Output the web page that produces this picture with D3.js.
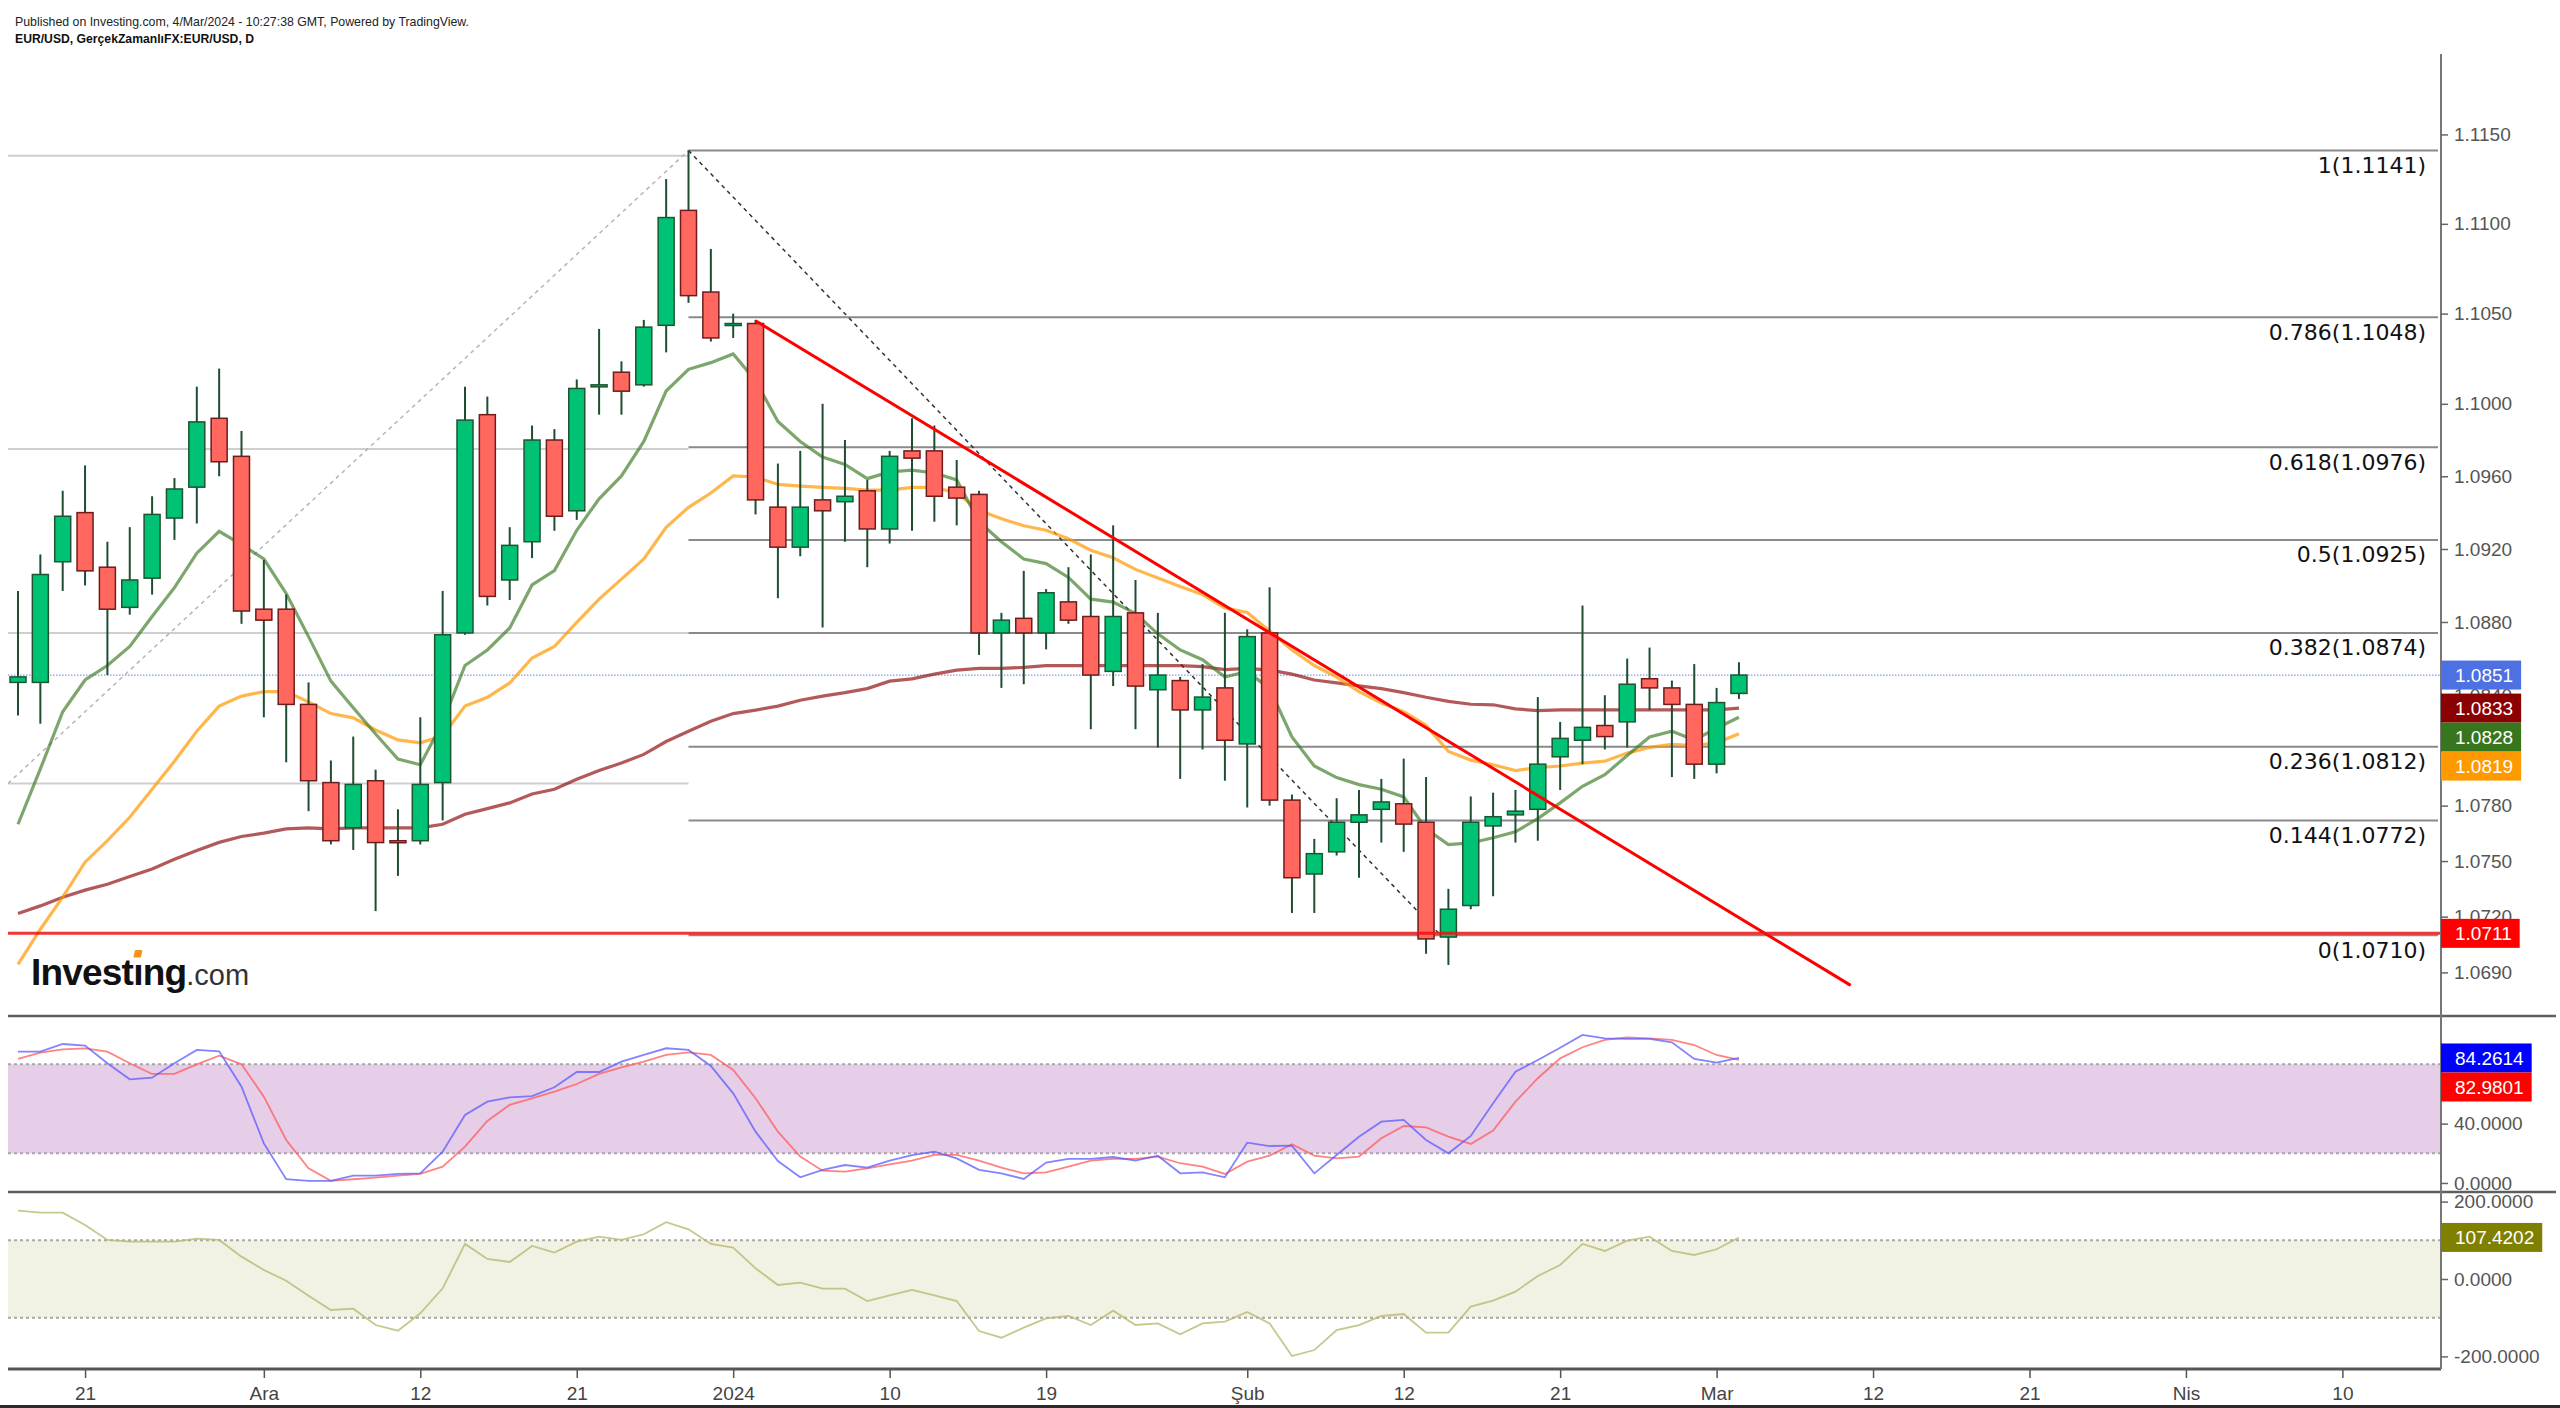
<!DOCTYPE html>
<html><head><meta charset="utf-8"><title>EUR/USD</title>
<script src="https://cdn.jsdelivr.net/npm/d3@7/dist/d3.min.js"></script>
<style>html,body{margin:0;padding:0;background:#fff;overflow:hidden}svg{display:block}</style>
</head><body>
<svg id="chart" width="2560" height="1408" xmlns="http://www.w3.org/2000/svg"></svg>
<script>
// ---------------- DATA ----------------
const firstDay = "2023-11-16";
const candleOpen = [1.0847,1.0847,1.0913,1.0940,1.0910,1.0888,1.0904,1.0937,1.0954,1.0992,
1.0971,1.0887,1.0887,1.0835,1.07925,1.0768,1.07935,1.0761,1.0761,1.07925,
1.0874,1.0994,1.0903,1.0924,1.0980,1.0941,1.10095,1.10175,1.10105,1.10435,
1.11075,1.1062,1.10435,1.10445,1.0943,1.0921,1.0947,1.0946,1.0952,1.0931,
1.0974,1.0974,1.0954,1.0950,1.0874,1.0882,1.0874,1.0891,1.0883,1.0853,
1.0885,1.0843,1.0848,1.0832,1.0844,1.08135,1.0874,1.0783,1.0743,1.0755,
1.0771,1.0778,1.0781,1.0771,1.0709,1.0726,1.0769,1.0775,1.0778,1.08065,
1.08155,1.08235,1.08255,1.0849,1.0844,1.0835,1.08025,1.0841];
const candleHigh = [1.0897,1.0917,1.0952,1.0966,1.0924,1.0932,1.0949,1.0959,1.10095,1.10195,
1.0985,1.0914,1.0895,1.0847,1.08045,1.08175,1.07995,1.0778,1.0828,1.0897,
1.10095,1.1004,1.0932,1.0988,1.0986,1.10135,1.10415,1.10235,1.10465,1.1125,
1.1141,1.1086,1.1050,1.10465,1.0967,1.0974,1.1000,1.0980,1.0958,1.0974,
1.0992,1.0988,1.0969,1.0952,1.0885,1.0908,1.0898,1.0910,1.0917,1.0933,
1.0903,1.0885,1.0850,1.0857,1.0885,1.0876,1.0899,1.0786,1.0762,1.0784,
1.07885,1.07945,1.08055,1.07955,1.0735,1.0785,1.0787,1.07885,1.0839,1.08255,
1.0889,1.0840,1.0860,1.0866,1.0848,1.0857,1.0844,1.0858];
const candleLow = [1.0829,1.08245,1.0897,1.0900,1.0851,1.0884,1.0895,1.0925,1.0934,1.0960,
1.0879,1.0828,1.08035,1.0777,1.0759,1.0756,1.0723,1.0742,1.0759,1.0772,
1.0873,1.0889,1.0892,1.0915,1.0930,1.0936,1.0994,1.0994,1.10095,1.10285,
1.1056,1.10345,1.10365,1.0939,1.0893,1.0916,1.0877,1.0924,1.0910,1.0923,
1.0930,1.0935,1.0933,1.0862,1.0844,1.0846,1.0865,1.0879,1.08215,1.0845,
1.08215,1.08115,1.07945,1.08105,1.07935,1.0779,1.0780,1.0722,1.0722,1.0753,
1.0741,1.0760,1.0755,1.0700,1.0694,1.0724,1.0731,1.0760,1.0761,1.07885,
1.08025,1.08105,1.08115,1.0832,1.07955,1.07945,1.07975,1.0838];
const candleClose = [1.0850,1.0906,1.0938,1.0908,1.0887,1.0903,1.0939,1.0953,1.0990,1.0968,
1.0886,1.0881,1.0835,1.07935,1.0761,1.07915,1.0760,1.0760,1.07915,1.0873,
1.0991,1.0894,1.0922,1.0980,1.0938,1.10085,1.10105,1.1007,1.10425,1.11035,
1.1060,1.10365,1.10445,1.0947,1.0921,1.0943,1.0941,1.0949,1.0931,1.0971,
1.0970,1.0949,1.0948,1.0874,1.0881,1.0874,1.0896,1.0881,1.0851,1.0883,
1.0845,1.0851,1.0832,1.0839,1.08155,1.0872,1.0783,1.0741,1.0754,1.0771,
1.0775,1.0782,1.0770,1.0708,1.0724,1.0771,1.0774,1.0777,1.08025,1.08165,
1.08225,1.08175,1.0846,1.0844,1.0835,1.08025,1.0836,1.0851];

const maGreen = [1.07699,1.07999,1.08310,1.08483,1.08562,1.08666,1.08830,1.08988,1.09177,1.09297,
1.09224,1.09145,1.08956,1.08720,1.08477,1.08332,1.08189,1.08053,1.08022,1.08252,
1.08562,1.08647,1.08767,1.09003,1.09082,1.09303,1.09476,1.09602,1.09792,1.10071,
1.10191,1.10228,1.10276,1.10128,1.09902,1.09792,1.09706,1.09665,1.09587,1.09624,
1.09634,1.09618,1.09580,1.09350,1.09240,1.09145,1.09120,1.09044,1.08925,1.08909,
1.08846,1.08735,1.08647,1.08594,1.08499,1.08530,1.08436,1.08173,1.08015,1.07952,
1.07914,1.07889,1.07847,1.07674,1.07589,1.07598,1.07626,1.07658,1.07730,1.07815,
1.07905,1.07968,1.08072,1.08173,1.08204,1.08157,1.08220,1.0828];
const maOrange = [1.06943,1.07132,1.07305,1.07494,1.07610,1.07737,1.07889,1.08041,1.08204,1.08341,
1.08395,1.08420,1.08420,1.08363,1.08300,1.08277,1.08211,1.08157,1.08141,1.08179,
1.08341,1.08389,1.08467,1.08603,1.08666,1.08798,1.08925,1.09035,1.09145,1.09319,
1.09429,1.09508,1.09602,1.09596,1.09555,1.09546,1.09539,1.09533,1.09524,1.09524,
1.09539,1.09539,1.09508,1.09413,1.09366,1.09328,1.09303,1.09256,1.09193,1.09152,
1.09088,1.09041,1.08994,1.08950,1.08877,1.08852,1.08751,1.08647,1.08562,1.08499,
1.08420,1.08357,1.08310,1.08236,1.08094,1.08047,1.08022,1.07990,1.08006,1.08015,
1.08031,1.08041,1.08085,1.08116,1.08132,1.08126,1.08141,1.0819];
const maRed = [1.07217,1.07258,1.07305,1.07343,1.07375,1.07416,1.07457,1.07510,1.07557,1.07601,
1.07633,1.07651,1.07674,1.07680,1.07674,1.07680,1.07680,1.07680,1.07680,1.07699,
1.07753,1.07784,1.07815,1.07863,1.07889,1.07943,1.07990,1.08031,1.08078,1.08148,
1.08204,1.08258,1.08300,1.08319,1.08341,1.08373,1.08395,1.08414,1.08436,1.08477,
1.08489,1.08515,1.08537,1.08546,1.08546,1.08552,1.08562,1.08562,1.08562,1.08562,
1.08562,1.08562,1.08562,1.08556,1.08540,1.08546,1.08537,1.08515,1.08483,1.08467,
1.08451,1.08436,1.08414,1.08389,1.08367,1.08351,1.08348,1.08326,1.08316,1.0832,
1.0832,1.0832,1.0832,1.0832,1.0832,1.0832,1.0832,1.0833];

const stochK = [88.5,88.5,93.7,92.6,80.7,69.9,71.0,80.7,89.7,88.8,
64.9,26.7,2.5,1.4,1.4,4.9,4.9,6.1,6.5,21.1,
45.8,54.8,57.7,58.6,64.5,74.8,74.8,81.8,86.3,90.8,
89.7,78.9,60.4,34.6,14.8,3.8,8.8,12.1,10.3,15.1,
18.7,21.1,16.6,8.8,6.5,2.7,13.7,16.2,16.2,17.5,
15.1,18.4,6.5,7.2,3.8,27.2,24.9,25.2,6.5,18.9,
31.2,41.3,42.5,29.0,20.0,31.7,53.7,75.0,82.9,91.2,
99.8,97.5,97.1,97.1,94.8,83.6,81.1,84.2614];
const stochD = [83.6,87.9,90.1,90.8,88.5,80.7,73.5,73.5,80.0,85.8,
80.0,58.2,29.0,9.9,1.4,2.5,3.6,4.9,6.1,11.0,
24.5,41.8,52.6,57.1,61.6,66.7,73.5,78.0,81.8,86.3,
88.1,86.3,76.2,57.1,34.6,17.8,8.3,7.6,9.9,12.6,
15.1,18.9,18.9,15.1,10.3,6.5,7.2,11.0,15.1,16.2,
16.2,17.8,13.3,11.0,6.1,14.4,18.4,26.1,18.4,16.6,
17.8,30.1,38.4,37.5,31.2,26.3,35.3,54.8,70.6,84.0,
91.5,96.4,98.2,97.5,96.4,93.0,86.3,82.9801];
const cci = [176.8,171.6,171.6,139.7,100.9,96.6,96.6,96.6,104.3,100.9,
57.8,23.3,-4.3,-43.1,-80.1,-76.7,-118.9,-133.6,-88.7,-24.1,
90.6,51.8,44.0,85.4,68.1,96.6,109.5,100.9,115.6,146.6,
128.5,90.6,81.1,27.6,-15.5,-9.4,-25.0,-25.0,-56.9,-42.2,
-28.4,-42.2,-56.9,-134.4,-151.7,-125.8,-101.7,-95.6,-118.9,-81.8,
-118.9,-114.6,-143.0,-114.6,-110.3,-85.3,-114.6,-199.1,-183.6,-131.8,
-118.9,-95.6,-90.5,-138.7,-138.7,-71.5,-56.0,-32.7,7.8,36.3,
90.6,72.5,99.2,109.5,72.5,62.1,76.8,107.42];

const fibRatios = ["1","0.786","0.618","0.5","0.382","0.236","0.144","0"];
const fibPrices = [1.1141,1.1048,1.0976,1.0925,1.0874,1.0812,1.0772,1.0710];
const fibStart = 30, fibDiagEnd = 63.65;
const leftFibPrices = [1.1138,1.0975,1.0874,1.0792];
const leftFibStart = -0.45, leftDiagLow = 1.0792;
const trendLine = [[33,1.1046],[82,1.0683]];
const supportPrice = 1.0711;
const lastPrice = 1.0851;

const priceTicks = [1.1150,1.1100,1.1050,1.1000,1.0960,1.0920,1.0880,1.0840,1.0780,1.0750,1.0720,1.0690];
const stochTicks = [40,0];
const cciTicks = [200,0,-200];
const xTickDates = ["2023-11-21","2023-12-01","2023-12-12","2023-12-21","2024-01-01","2024-01-10","2024-01-19","2024-02-01","2024-02-12","2024-02-21","2024-03-01","2024-03-12","2024-03-21","2024-04-01","2024-04-10"];
const xTickLabels = ["21","Ara","12","21","2024","10","19","Şub","12","21","Mar","12","21","Nis","10"];

const priceBoxes = [{v:1.0851,label:"1.0851",color:"#4d70e2"},{v:1.0833,label:"1.0833",color:"#8b0000"},{v:1.0828,label:"1.0828",color:"#38761d"},{v:1.0819,label:"1.0819",color:"#ff9900"},{v:1.0711,label:"1.0711",color:"#ff0000"}];
const stochBoxes = [{v:84.2614,label:"84.2614",color:"#0000ff"},{v:82.9801,label:"82.9801",color:"#ff0000"}];
const cciBoxes = [{v:107.4202,label:"107.4202",color:"#808000"}];

const headerLine1 = "Published on Investing.com, 4/Mar/2024 - 10:27:38 GMT, Powered by TradingView.";
const headerLine2 = "EUR/USD, GerçekZamanlıFX:EUR/USD, D";

// ---------------- LAYOUT ----------------
const svg = d3.select("#chart");
const AX = "'Liberation Sans', Arial, Helvetica, sans-serif";
const L = 8, R = 2441;
const mainTop = 54, mainBot = 1015, stTop = 1016, stBot = 1192, ccTop = 1192, ccBot = 1369;

function tradingIndex(ds){
  const a = new Date(firstDay+"T00:00:00Z"), b = new Date(ds+"T00:00:00Z");
  let n=0; for(let d=new Date(a); d<b; d.setUTCDate(d.getUTCDate()+1)){const w=d.getUTCDay(); if(w!==0&&w!==6) n++;}
  return n;
}
const x = d3.scaleLinear().domain([0,100]).range([18, 18+2235]);
const y = d3.scaleLog().domain([1.0710,1.1141]).range([935.2,150.5]);
const yS = d3.scaleLinear().domain([20,80]).range([1153.3,1064.3]);
const yC = d3.scaleLinear().domain([-100,100]).range([1317.7,1240.3]);

const defs = svg.append("defs");
function clip(id,y0,y1){defs.append("clipPath").attr("id",id).append("rect").attr("x",L).attr("y",y0).attr("width",R-L).attr("height",y1-y0);}
clip("cMain",mainTop,mainBot); clip("cSt",stTop,stBot); clip("cCc",ccTop,ccBot);

svg.append("rect").attr("width",2560).attr("height",1408).attr("fill","#fff");

// header
svg.append("text").attr("x",15).attr("y",26).attr("textLength",454).attr("lengthAdjust","spacingAndGlyphs")
  .style("font-family",AX).style("font-size","13px").attr("fill","#222").text(headerLine1);
svg.append("text").attr("x",15).attr("y",43).attr("textLength",239).attr("lengthAdjust","spacingAndGlyphs")
  .style("font-family",AX).style("font-size","13px").style("font-weight","bold").attr("fill","#111").text(headerLine2);

// ---------------- MAIN PANEL ----------------
const gM = svg.append("g").attr("clip-path","url(#cMain)");
gM.selectAll(".lf").data(leftFibPrices).join("line")
  .attr("x1",x(leftFibStart)).attr("x2",x(fibStart)).attr("y1",d=>y(d)).attr("y2",d=>y(d))
  .attr("stroke","#cfcfcf").attr("stroke-width",2);
gM.append("line").attr("x1",x(leftFibStart)).attr("y1",y(leftDiagLow)).attr("x2",x(fibStart)).attr("y2",y(fibPrices[0]))
  .attr("stroke","#b5b5b5").attr("stroke-width",1.5).attr("stroke-dasharray","4,4");
gM.selectAll(".rf").data(fibPrices).join("line")
  .attr("x1",x(fibStart)).attr("x2",R-3).attr("y1",d=>y(d)).attr("y2",d=>y(d))
  .attr("stroke","#8a8a8a").attr("stroke-width",2);
gM.selectAll(".rfl").data(fibPrices).join("text")
  .attr("x",2426).attr("y",d=>y(d)+22.5).attr("text-anchor","end")
  .style("font-family","'DejaVu Sans', Verdana, sans-serif").style("font-size","22px").attr("fill","#111")
  .text((d,i)=>fibRatios[i]+"("+d.toFixed(4)+")");
gM.append("line").attr("x1",x(fibStart)).attr("y1",y(fibPrices[0])).attr("x2",x(fibDiagEnd)).attr("y2",y(fibPrices[7]))
  .attr("stroke","#333").attr("stroke-width",1.5).attr("stroke-dasharray","4,4");
gM.append("line").attr("x1",L).attr("x2",R).attr("y1",y(lastPrice)).attr("y2",y(lastPrice))
  .attr("stroke","#7f9af0").attr("stroke-width",1.2).attr("stroke-dasharray","1.5,1.5");

const maLine = d3.line().x((d,i)=>x(i)).y(d=>y(d));
gM.append("path").attr("d",maLine(maRed)).attr("fill","none").attr("stroke","#8b0000").attr("stroke-opacity",0.65).attr("stroke-width",3.2);
gM.append("path").attr("d",maLine(maOrange)).attr("fill","none").attr("stroke","#ff9900").attr("stroke-opacity",0.7).attr("stroke-width",3.2);
gM.append("path").attr("d",maLine(maGreen)).attr("fill","none").attr("stroke","#38761d").attr("stroke-opacity",0.65).attr("stroke-width",3.2);

const cData = candleOpen.map((o,i)=>({i,o,h:candleHigh[i],l:candleLow[i],c:candleClose[i]}));
const cg = gM.selectAll(".cd").data(cData).join("g");
cg.append("line").attr("x1",d=>x(d.i)).attr("x2",d=>x(d.i)).attr("y1",d=>y(d.h)).attr("y2",d=>y(d.l))
  .attr("stroke","#1f4d31").attr("stroke-width",2);
cg.append("rect")
  .attr("x",d=>x(d.i)-8).attr("width",16)
  .attr("y",d=>y(Math.max(d.o,d.c)))
  .attr("height",d=>Math.max(2,y(Math.min(d.o,d.c))-y(Math.max(d.o,d.c))))
  .attr("fill",d=>d.c>=d.o?"#00c274":"#ff675f")
  .attr("stroke",d=>d.c>=d.o?"#1b5630":"#6e1c1c").attr("stroke-width",1.5);

gM.append("line").attr("x1",x(trendLine[0][0])).attr("y1",y(trendLine[0][1])).attr("x2",x(trendLine[1][0])).attr("y2",y(trendLine[1][1]))
  .attr("stroke","#ff0000").attr("stroke-width",3);
gM.append("line").attr("x1",L).attr("x2",R).attr("y1",y(supportPrice)).attr("y2",y(supportPrice))
  .attr("stroke","#f01010").attr("stroke-opacity",0.85).attr("stroke-width",3);

// logo
const logo = svg.append("text").attr("x",31).attr("y",985).style("font-family",AX).style("font-weight","bold")
  .style("font-size","37px").style("letter-spacing","-0.8px").attr("fill","#111");
logo.append("tspan").text("Invest");
logo.append("tspan").text("ı");
logo.append("tspan").text("ng");
logo.append("tspan").style("font-weight","normal").style("font-size","29px").style("letter-spacing","0px").attr("fill","#333").text(".com");
try{
  const ext = logo.node().getExtentOfChar(6);
  svg.append("rect").attr("x",ext.x+ext.width/2-3.8).attr("y",950).attr("width",7.6).attr("height",7.6).attr("rx",1)
    .attr("fill","#f7941d").attr("transform",`skewX(-12)`).attr("transform-origin",`${ext.x+ext.width/2} 954`);
}catch(e){}

// ---------------- STOCH PANEL ----------------
const gS = svg.append("g").attr("clip-path","url(#cSt)");
gS.append("rect").attr("x",L).attr("width",R-L).attr("y",yS(80)).attr("height",yS(20)-yS(80)).attr("fill","#e6cde8");
[80,20].forEach(v=>gS.append("line").attr("x1",L).attr("x2",R).attr("y1",yS(v)).attr("y2",yS(v))
  .attr("stroke","#a9a3aa").attr("stroke-width",2).attr("stroke-dasharray","3,3"));
const stLine = d3.line().x((d,i)=>x(i)).y(d=>yS(d));
gS.append("path").attr("d",stLine(stochD)).attr("fill","none").attr("stroke","#ff5a5a").attr("stroke-opacity",0.75).attr("stroke-width",1.8);
gS.append("path").attr("d",stLine(stochK)).attr("fill","none").attr("stroke","#5a5aff").attr("stroke-opacity",0.75).attr("stroke-width",1.8);

// ---------------- CCI PANEL ----------------
const gC = svg.append("g").attr("clip-path","url(#cCc)");
gC.append("rect").attr("x",L).attr("width",R-L).attr("y",yC(100)).attr("height",yC(-100)-yC(100)).attr("fill","#f1f2e4");
[100,-100].forEach(v=>gC.append("line").attr("x1",L).attr("x2",R).attr("y1",yC(v)).attr("y2",yC(v))
  .attr("stroke","#a8a8a0").attr("stroke-width",2).attr("stroke-dasharray","3,3"));
gC.append("path").attr("d",d3.line().x((d,i)=>x(i)).y(d=>yC(d))(cci)).attr("fill","none")
  .attr("stroke","#b8b870").attr("stroke-opacity",0.8).attr("stroke-width",1.8);

// ---------------- FRAME / AXES ----------------
svg.append("line").attr("x1",L).attr("x2",2556).attr("y1",stTop).attr("y2",stTop).attr("stroke","#5e5e5e").attr("stroke-width",2.5);
svg.append("line").attr("x1",L).attr("x2",2556).attr("y1",ccTop).attr("y2",ccTop).attr("stroke","#5e5e5e").attr("stroke-width",2.5);
svg.append("line").attr("x1",L).attr("x2",R).attr("y1",ccBot).attr("y2",ccBot).attr("stroke","#555").attr("stroke-width",3);
svg.append("line").attr("x1",R).attr("x2",R).attr("y1",mainTop).attr("y2",ccBot).attr("stroke","#777").attr("stroke-width",2);
svg.append("rect").attr("x",0).attr("y",1405).attr("width",2560).attr("height",3).attr("fill","#2a2a2a");

const xAxis = d3.axisBottom(x).tickValues(xTickDates.map(tradingIndex)).tickSize(8).tickPadding(6)
  .tickFormat((d,i)=>xTickLabels[i]);
const gx = svg.append("g").attr("transform",`translate(0,${ccBot+1})`).call(xAxis);
gx.select(".domain").remove();
gx.selectAll(".tick line").attr("stroke","#555").attr("stroke-width",1.5);
gx.selectAll(".tick text").style("font-family",AX).style("font-size","19px").attr("fill","#444").attr("dy","0.85em");

function rightAxis(scale, ticks, fmt){
  const ax = d3.axisRight(scale).tickValues(ticks).tickSize(7).tickPadding(6).tickFormat(fmt);
  const g = svg.append("g").attr("transform",`translate(${R},0)`).call(ax);
  g.select(".domain").remove();
  g.selectAll(".tick line").attr("stroke","#666").attr("stroke-width",1.5);
  g.selectAll(".tick text").style("font-family",AX).style("font-size","19px").attr("fill","#555");
}
rightAxis(y, priceTicks, d=>d.toFixed(4));
rightAxis(yS, stochTicks, d=>d.toFixed(4));
rightAxis(yC, cciTicks, d=>d.toFixed(4));

function valueBoxes(items, scale){
  const placed = items.map(d=>Object.assign({},d,{cy:scale(d.v)})).sort((a,b)=>a.cy-b.cy);
  let prev = -Infinity;
  placed.forEach(d=>{let t=d.cy-14.5; if(t<prev) t=prev; d.top=t; prev=t+29;});
  placed.forEach(d=>{
    const g = svg.append("g");
    const t = g.append("text").attr("x",R+14).attr("y",d.top+14.5).attr("dy","0.36em").attr("fill","#fff")
      .style("font-family",AX).style("font-size","19px").text(d.label);
    const w = t.node().getComputedTextLength();
    g.insert("rect","text").attr("x",R).attr("y",d.top).attr("width",w+22).attr("height",29).attr("fill",d.color);
  });
}
valueBoxes(priceBoxes, y);
valueBoxes(stochBoxes, yS);
valueBoxes(cciBoxes, yC);
</script>
</body></html>
